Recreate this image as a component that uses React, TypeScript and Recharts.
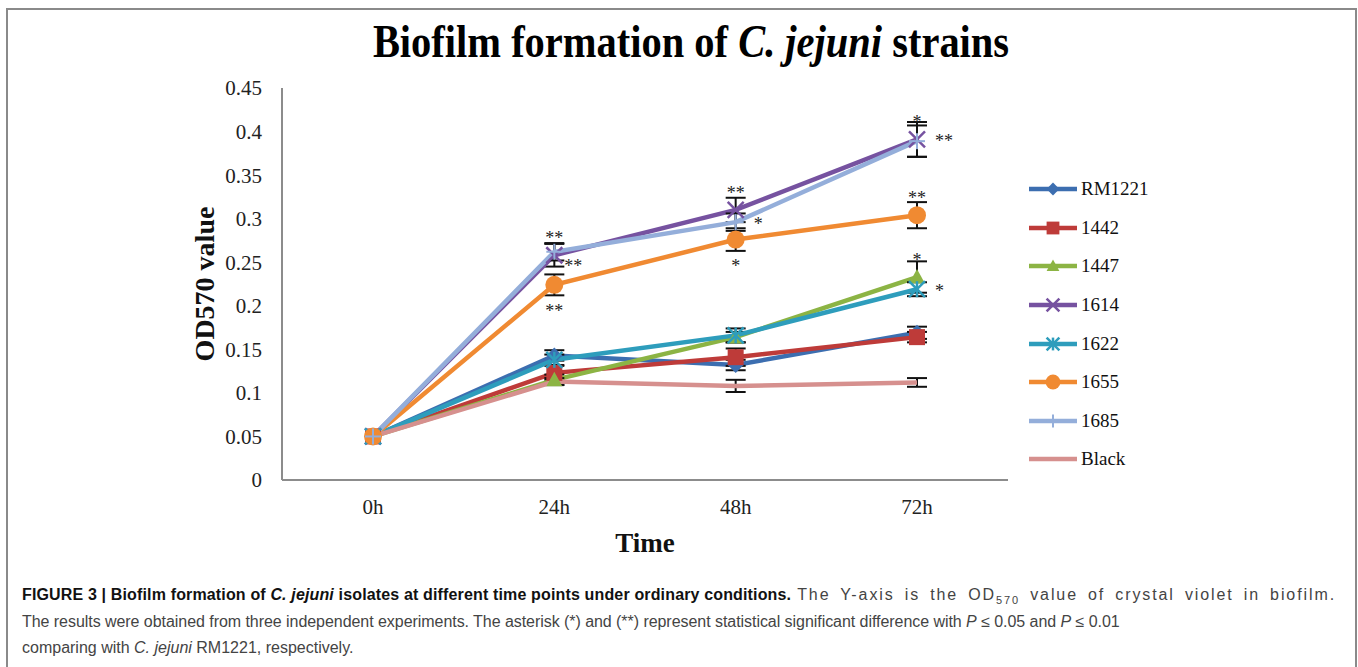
import React from "react";
import { LineChart, Line, XAxis, YAxis, ErrorBar, Legend, ReferenceDot } from "recharts";

const times = ["0h", "24h", "48h", "72h"];

const rm1221 = [0.05, 0.143, 0.132, 0.169];
const s1442 = [0.05, 0.123, 0.141, 0.164];
const s1447 = [0.05, 0.115, 0.164, 0.233];
const s1614 = [0.05, 0.258, 0.31, 0.391];
const s1622 = [0.05, 0.138, 0.166, 0.219];
const s1655 = [0.05, 0.224, 0.276, 0.304];
const s1685 = [0.05, 0.262, 0.296, 0.389];
const black = [0.05, 0.113, 0.108, 0.112];

// standard deviation bars (none drawn at 0h)
const rm1221Err = [null, 0.006, 0.006, 0.007];
const s1442Err = [null, 0.008, 0.01, 0.006];
const s1447Err = [null, 0.006, 0.006, 0.018];
const s1614Err = [null, 0.013, 0.014, 0.02];
const s1622Err = [null, 0.006, 0.008, 0.008];
const s1655Err = [null, 0.012, 0.013, 0.015];
const s1685Err = [null, 0.01, 0.01, 0.018];
const blackErr = [null, 0.004, 0.007, 0.005];

const yTicks = [0, 0.05, 0.1, 0.15, 0.2, 0.25, 0.3, 0.35, 0.4, 0.45];

const series = [
  { key: "rm1221", name: "RM1221", values: rm1221, err: rm1221Err, color: "#3C6EB0", marker: "diamond" },
  { key: "s1442", name: "1442", values: s1442, err: s1442Err, color: "#BE3B39", marker: "square" },
  { key: "s1447", name: "1447", values: s1447, err: s1447Err, color: "#8CB444", marker: "triangle" },
  { key: "s1614", name: "1614", values: s1614, err: s1614Err, color: "#7652A0", marker: "x" },
  { key: "s1622", name: "1622", values: s1622, err: s1622Err, color: "#2E9DBC", marker: "star" },
  { key: "s1655", name: "1655", values: s1655, err: s1655Err, color: "#F08A32", marker: "circle" },
  { key: "s1685", name: "1685", values: s1685, err: s1685Err, color: "#94AEDA", marker: "plus" },
  { key: "black", name: "Black", values: black, err: blackErr, color: "#D6908E", marker: "none" },
];

// significance marks vs RM1221
const stars = [
  { time: "24h", key: "s1614", text: "**", pos: "top" },
  { time: "24h", key: "s1685", text: "**", pos: "lowright" },
  { time: "24h", key: "s1655", text: "**", pos: "bottom" },
  { time: "48h", key: "s1614", text: "**", pos: "top" },
  { time: "48h", key: "s1685", text: "*", pos: "right" },
  { time: "48h", key: "s1655", text: "*", pos: "bottom" },
  { time: "72h", key: "s1614", text: "*", pos: "top" },
  { time: "72h", key: "s1614", text: "**", pos: "right" },
  { time: "72h", key: "s1655", text: "**", pos: "top" },
  { time: "72h", key: "s1447", text: "*", pos: "top" },
  { time: "72h", key: "s1622", text: "*", pos: "right" },
];

const starOffset: Record<string, { dx: number; dy: number; anchor: string }> = {
  top: { dx: 0, dy: -11, anchor: "middle" },
  right: { dx: 18, dy: 8, anchor: "start" },
  lowright: { dx: 10, dy: 20, anchor: "start" },
  bottom: { dx: 0, dy: 32, anchor: "middle" },
};

const data = times.map((t, i) => {
  const row: Record<string, any> = { time: t };
  series.forEach((s) => {
    row[s.key] = s.values[i];
    row[s.key + "Err"] = s.err[i];
  });
  return row;
});

const serif = "'Liberation Serif', 'Times New Roman', serif";
const sans = "'Liberation Sans', Arial, sans-serif";

function Marker({ cx, cy, type, color, size = 1 }: { cx: number; cy: number; type: string; color: string; size?: number }) {
  const r = 8 * size;
  switch (type) {
    case "diamond":
      return <polygon points={`${cx},${cy - r} ${cx + r},${cy} ${cx},${cy + r} ${cx - r},${cy}`} fill={color} />;
    case "square":
      return <rect x={cx - r} y={cy - r} width={2 * r} height={2 * r} fill={color} />;
    case "triangle":
      return <polygon points={`${cx},${cy - r} ${cx + r},${cy + r * 0.8} ${cx - r},${cy + r * 0.8}`} fill={color} />;
    case "x":
      return (
        <g stroke={color} strokeWidth={2.5}>
          <line x1={cx - r} y1={cy - r} x2={cx + r} y2={cy + r} />
          <line x1={cx - r} y1={cy + r} x2={cx + r} y2={cy - r} />
        </g>
      );
    case "star":
      return (
        <g stroke={color} strokeWidth={2.5}>
          <line x1={cx - r} y1={cy - r} x2={cx + r} y2={cy + r} />
          <line x1={cx - r} y1={cy + r} x2={cx + r} y2={cy - r} />
          <line x1={cx} y1={cy - r} x2={cx} y2={cy + r} />
        </g>
      );
    case "circle":
      return <circle cx={cx} cy={cy} r={r + 1} fill={color} />;
    case "plus":
      return (
        <g stroke={color} strokeWidth={2}>
          <line x1={cx} y1={cy - r} x2={cx} y2={cy + r} />
          <line x1={cx - r} y1={cy} x2={cx + r} y2={cy} />
        </g>
      );
    default:
      return null;
  }
}

function LegendBox() {
  return (
    <div style={{ fontFamily: serif, fontSize: 19, color: "#111" }}>
      {series.map((s) => (
        <div key={s.key} style={{ display: "flex", alignItems: "center", height: 38.6 }}>
          <svg width={50} height={20} style={{ marginRight: 3 }}>
            <line x1={1} y1={10} x2={49} y2={10} stroke={s.color} strokeWidth={4.5} />
            <Marker cx={25} cy={10} type={s.marker} color={s.color} size={0.8} />
          </svg>
          <span>{s.name}</span>
        </div>
      ))}
    </div>
  );
}

export default function App() {
  return (
    <div style={{ position: "absolute", left: 0, top: 0, width: 1358, height: 667, overflow: "hidden", background: "#fff" }}>
      <div style={{ position: "absolute", left: 6, top: 8, width: 1347, height: 720, border: "2px solid #8a8a8a" }} />
      <svg style={{ position: "absolute", left: 0, top: 0 }} width={1358} height={80}>
        <text transform="translate(691,57) scale(0.88,1)" textAnchor="middle" fontFamily={serif} fontWeight="bold" fontSize={46} fill="#000">
          Biofilm formation of <tspan fontStyle="italic">C. jejuni</tspan> strains
        </text>
      </svg>
      <div style={{ position: "absolute", left: 0, top: 0 }}>
        <LineChart width={1358} height={560} data={data} margin={{ top: 88, right: 350, bottom: 50, left: 222 }}>
          <XAxis
            dataKey="time"
            padding={{ left: 91, right: 91 }}
            axisLine={{ stroke: "#8c8c8c", strokeWidth: 2 }}
            tickLine={false}
            tick={{ fontFamily: serif, fontSize: 21, fill: "#222" }}
            tickMargin={13}
            height={30}
            label={{
              content: ({ viewBox }: any) => (
                <text x={viewBox.x + viewBox.width / 2} y={viewBox.y + 72} textAnchor="middle" fontFamily={serif} fontWeight="bold" fontSize={27} fill="#111">
                  Time
                </text>
              ),
            }}
          />
          <YAxis
            domain={[0, 0.45]}
            ticks={yTicks}
            interval={0}
            width={60}
            axisLine={{ stroke: "#8c8c8c", strokeWidth: 2 }}
            tickLine={false}
            tickFormatter={(v: number) => String(v)}
            tick={{ fontFamily: serif, fontSize: 21, fill: "#222" }}
            tickMargin={14}
            label={{
              content: ({ viewBox }: any) => {
                const x = viewBox.x - 8;
                const y = viewBox.y + viewBox.height / 2;
                return (
                  <text x={x} y={y} transform={`rotate(-90, ${x}, ${y})`} textAnchor="middle" fontFamily={serif} fontWeight="bold" fontSize={28} fill="#111">
                    OD570 value
                  </text>
                );
              },
            }}
          />
          {series.map((s) => (
            <Line
              key={s.key}
              dataKey={s.key}
              name={s.name}
              stroke={s.color}
              strokeWidth={4.5}
              isAnimationActive={false}
              dot={(p: any) => <Marker key={s.key + p.index} cx={p.cx} cy={p.cy} type={s.marker} color={s.color} />}
              activeDot={false}
            >
              <ErrorBar dataKey={s.key + "Err"} direction="y" width={10} stroke="#111" strokeWidth={2} />
            </Line>
          ))}
          {stars.map((a, i) => {
            const idx = times.indexOf(a.time);
            const s = series.find((q) => q.key === a.key)!;
            const o = starOffset[a.pos];
            return (
              <ReferenceDot
                key={i}
                x={a.time}
                y={s.values[idx]}
                r={1}
                shape={(p: any) => (
                  <text x={p.cx + o.dx} y={p.cy + o.dy} textAnchor={o.anchor} fontFamily={serif} fontSize={18} fill="#222">
                    {a.text}
                  </text>
                )}
              />
            );
          })}
          <Legend
            layout="vertical"
            align="center"
            verticalAlign="middle"
            content={() => <LegendBox />}
            wrapperStyle={{ left: 1028, top: 170, width: 140 }}
          />
        </LineChart>
      </div>
      <div style={{ position: "absolute", left: 22, top: 582, fontFamily: sans, fontSize: 16, lineHeight: "26.5px", color: "#444" }}>
        <div style={{ width: 1314, display: "flex", whiteSpace: "nowrap" as any }}>
          <b style={{ color: "#111", letterSpacing: 0.15 }}>
            FIGURE 3 | Biofilm formation of <i>C. jejuni</i> isolates at different time points under ordinary conditions.
          </b>
          <span style={{ flex: 1, marginLeft: 6, textAlign: "justify", textAlignLast: "justify", whiteSpace: "normal", letterSpacing: 1.9 }}>
            The Y-axis is the OD<sub style={{ fontSize: 11, lineHeight: 0 }}>570</sub> value of crystal violet in biofilm.
          </span>
        </div>
        <div style={{ letterSpacing: -0.05 }}>
          The results were obtained from three independent experiments. The asterisk (*) and (**) represent statistical significant difference with <i>P</i> ≤ 0.05 and <i>P</i> ≤ 0.01
        </div>
        <div>
          comparing with <i>C. jejuni</i> RM1221, respectively.
        </div>
      </div>
    </div>
  );
}
